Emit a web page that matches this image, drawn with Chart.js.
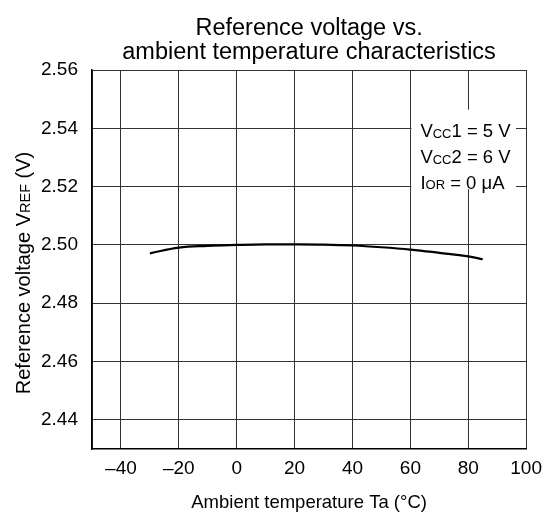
<!DOCTYPE html>
<html>
<head>
<meta charset="utf-8">
<script src="https://cdn.jsdelivr.net/npm/chart.js@4/dist/chart.umd.min.js"></script>
<style>
  html, body { margin: 0; padding: 0; background: #fff; }
  #wrap { width: 550px; height: 516px; }
</style>
</head>
<body>
<div id="wrap"><canvas id="chart"></canvas></div>
<script>
const FONT = 'Arial, "Liberation Sans", sans-serif';

// temperature (°C) and reference voltage (V)
const temps = [-30, -20, -10, 0, 10, 20, 30, 40, 50, 60, 70, 80, 85];
const vref = [2.4971, 2.4991, 2.4997, 2.5000, 2.5002, 2.5002, 2.5001, 2.4998, 2.4992, 2.4984, 2.4973, 2.4961, 2.4951];

const xTicks = [-50, -40, -20, 0, 20, 40, 60, 80, 100];
const yTicks = [2.44, 2.46, 2.48, 2.50, 2.52, 2.54, 2.56];

// conditions shown in the box: [main, subscript, rest]
const conditions = [
  ['V', 'CC', '1 = 5 V'],
  ['V', 'CC', '2 = 6 V'],
  ['I', 'OR', ' = 0 \u03bcA']
];
const condLevels = [2.5387, 2.5298, 2.5210];

// draws the condition box and the y axis title (it has a subscript)
const extras = {
  id: 'extras',
  afterDraw(chart) {
    const ctx = chart.ctx;
    const x = chart.scales.x, y = chart.scales.y;
    const area = chart.chartArea;

    const bx0 = x.getPixelForValue(60) + 1;
    const bx1 = x.getPixelForValue(96.5);
    const by0 = y.getPixelForValue(2.5464);
    const by1 = y.getPixelForValue(2.5191);
    ctx.save();
    ctx.fillStyle = '#fff';
    ctx.fillRect(bx0, by0, bx1 - bx0, by1 - by0);
    ctx.fillStyle = '#000';
    ctx.textBaseline = 'middle';
    conditions.forEach((c, i) => {
      let tx = bx0 + 9;
      const ty = y.getPixelForValue(condLevels[i]);
      ctx.font = '18.5px ' + FONT;
      ctx.fillText(c[0], tx, ty);
      tx += ctx.measureText(c[0]).width;
      ctx.font = '13px ' + FONT;
      ctx.fillText(c[1], tx, ty + 2);
      tx += ctx.measureText(c[1]).width;
      ctx.font = '18.5px ' + FONT;
      ctx.fillText(c[2], tx, ty);
    });
    ctx.restore();

    const parts = [['Reference voltage V', 20], ['REF', 14.5], [' (V)', 20]];
    ctx.save();
    ctx.translate(24, 273);
    ctx.rotate(-Math.PI / 2);
    let total = 0;
    parts.forEach(p => { ctx.font = p[1] + 'px ' + FONT; total += ctx.measureText(p[0]).width; });
    let px = -total / 2;
    ctx.fillStyle = '#000';
    ctx.textBaseline = 'middle';
    parts.forEach(p => {
      ctx.font = p[1] + 'px ' + FONT;
      ctx.fillText(p[0], px, p[1] < 20 ? 2 : 0);
      px += ctx.measureText(p[0]).width;
    });
    ctx.restore();
  }
};

new Chart(document.getElementById('chart'), {
  type: 'line',
  data: {
    datasets: [{
      data: temps.map((t, i) => ({ x: t, y: vref[i] })),
      borderColor: '#000',
      borderWidth: 2.2,
      pointRadius: 0,
      tension: 0.4,
      fill: false
    }]
  },
  options: {
    responsive: true,
    maintainAspectRatio: false,
    animation: false,
    layout: { padding: { top: 0, right: 21, bottom: 0, left: 0 } },
    plugins: {
      legend: { display: false },
      tooltip: { enabled: false },
      title: {
        display: true,
        fullSize: false,
        text: ['Reference voltage vs.', 'ambient temperature characteristics'],
        color: '#000',
        font: { family: FONT, size: 23.5, weight: 'normal', lineHeight: 1.0 },
        padding: { top: 17, bottom: 6 }
      }
    },
    scales: {
      x: {
        type: 'linear',
        min: -50,
        max: 100,
        afterBuildTicks: s => { s.ticks = xTicks.map(v => ({ value: v })); },
        afterFit: s => { s.height = 67; },
        grid: { color: '#333', lineWidth: 1, drawTicks: false },
        border: { color: '#000', width: 1.5 },
        ticks: {
          color: '#000',
          padding: 8,
          maxRotation: 0,
          autoSkip: false,
          font: { family: FONT, size: 19 },
          callback: v => v === -50 ? '' : (v < 0 ? '\u2013' + Math.abs(v) : '' + v)
        },
        title: {
          display: true,
          text: 'Ambient temperature Ta (\u00b0C)',
          color: '#000',
          font: { family: FONT, size: 18.5 },
          padding: { top: 2, bottom: 2 }
        }
      },
      y: {
        min: 2.43,
        max: 2.56,
        afterBuildTicks: s => { s.ticks = yTicks.map(v => ({ value: v })); },
        afterFit: s => { s.width = 92; },
        grid: { color: '#333', lineWidth: 1, drawTicks: false },
        border: { color: '#000', width: 1.5 },
        ticks: {
          color: '#000',
          padding: 14,
          autoSkip: false,
          font: { family: FONT, size: 19 },
          callback: v => v.toFixed(2)
        }
      }
    }
  },
  plugins: [extras]
});
</script>
</body>
</html>
